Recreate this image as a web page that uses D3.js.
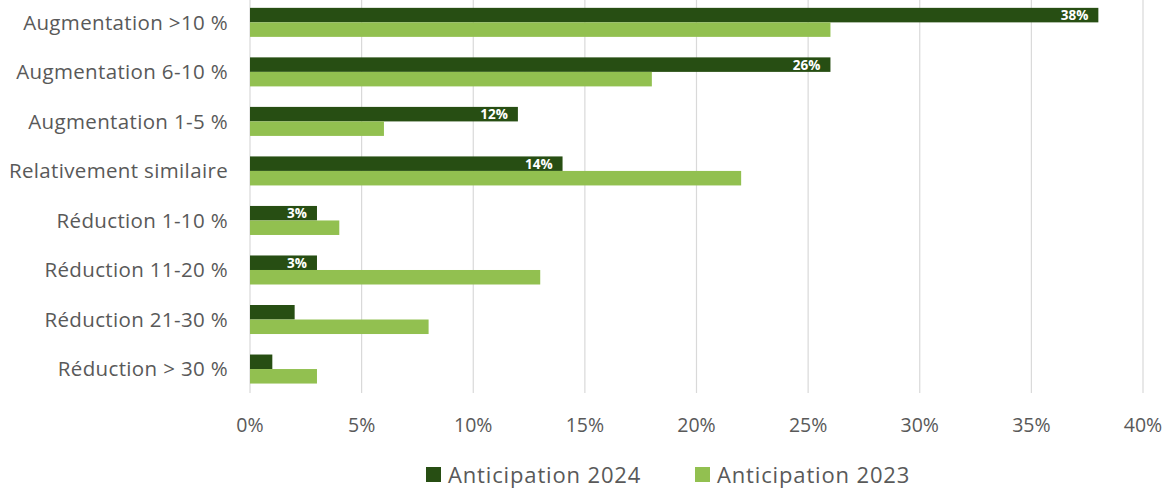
<!DOCTYPE html>
<html><head><meta charset="utf-8">
<script src="https://cdn.jsdelivr.net/npm/d3@7"></script>
<style>body{margin:0;background:#fff;}svg{display:block;}</style>
</head><body>
<script>
const categories = ["Augmentation >10 %","Augmentation 6-10 %","Augmentation 1-5 %","Relativement similaire","Réduction 1-10 %","Réduction 11-20 %","Réduction 21-30 %","Réduction > 30 %"];
const values2024 = [38,26,12,14,3,3,2,1];
const values2023 = [26,18,6,22,4,13,8,3];
const labels2024 = ["38%","26%","12%","14%","3%","3%","",""];
const xTicks = [0,5,10,15,20,25,30,35,40];
const seriesNames = ["Anticipation 2024","Anticipation 2023"];
const colors = ["#274E13","#92C050"];

const W=1165,H=492;
const svg=d3.select("body").append("svg").attr("width",W).attr("height",H);
const font="'Open Sans', sans-serif";
const x=d3.scaleLinear().domain([0,40]).range([250,1143]);
const y=d3.scaleBand().domain(categories).range([-2.4,393.8]).paddingInner(0.414).paddingOuter(0.207);
const bh=y.bandwidth()/2;

// gridlines
svg.append("g").selectAll("line").data(xTicks).join("line")
  .attr("x1",d=>x(d)).attr("x2",d=>x(d)).attr("y1",0).attr("y2",393)
  .attr("stroke","#d9d9d9").attr("stroke-width",1.2);

// bars
svg.append("g").selectAll("rect").data(categories).join("rect")
  .attr("x",x(0)).attr("y",d=>y(d)).attr("height",bh)
  .attr("width",(d,i)=>x(values2024[i])-x(0)).attr("fill",colors[0]);
svg.append("g").selectAll("rect").data(categories).join("rect")
  .attr("x",x(0)).attr("y",d=>y(d)+bh).attr("height",bh)
  .attr("width",(d,i)=>x(values2023[i])-x(0)).attr("fill",colors[1]);

// data labels
svg.append("g").selectAll("text").data(categories).join("text")
  .attr("x",(d,i)=>x(values2024[i])-10).attr("y",d=>y(d)+bh/2+5)
  .attr("text-anchor","end").attr("fill","#fff").attr("font-weight","bold")
  .attr("font-family",font).attr("font-size",13.5)
  .text((d,i)=>labels2024[i]);

// category labels
svg.append("g").selectAll("text").data(categories).join("text")
  .attr("x",228).attr("y",d=>y(d)+y.bandwidth()/2+7.2)
  .attr("text-anchor","end").attr("fill","#595959")
  .attr("font-family",font).attr("font-size",20.5).attr("letter-spacing",0.35)
  .text(d=>d);

// x axis labels
svg.append("g").selectAll("text").data(xTicks).join("text")
  .attr("x",d=>x(d)).attr("y",432)
  .attr("text-anchor","middle").attr("fill","#595959")
  .attr("font-family",font).attr("font-size",19.5)
  .text(d=>d+"%");

// legend
const leg=[{x:426,name:seriesNames[0],c:colors[0]},{x:695,name:seriesNames[1],c:colors[1]}];
const lg=svg.append("g").selectAll("g").data(leg).join("g");
lg.append("rect").attr("x",d=>d.x).attr("y",467).attr("width",15).attr("height",15).attr("fill",d=>d.c);
lg.append("text").attr("x",d=>d.x+22).attr("y",483).attr("fill","#595959")
  .attr("font-family",font).attr("font-size",22).attr("letter-spacing",0.85).text(d=>d.name);
</script>
</body></html>
